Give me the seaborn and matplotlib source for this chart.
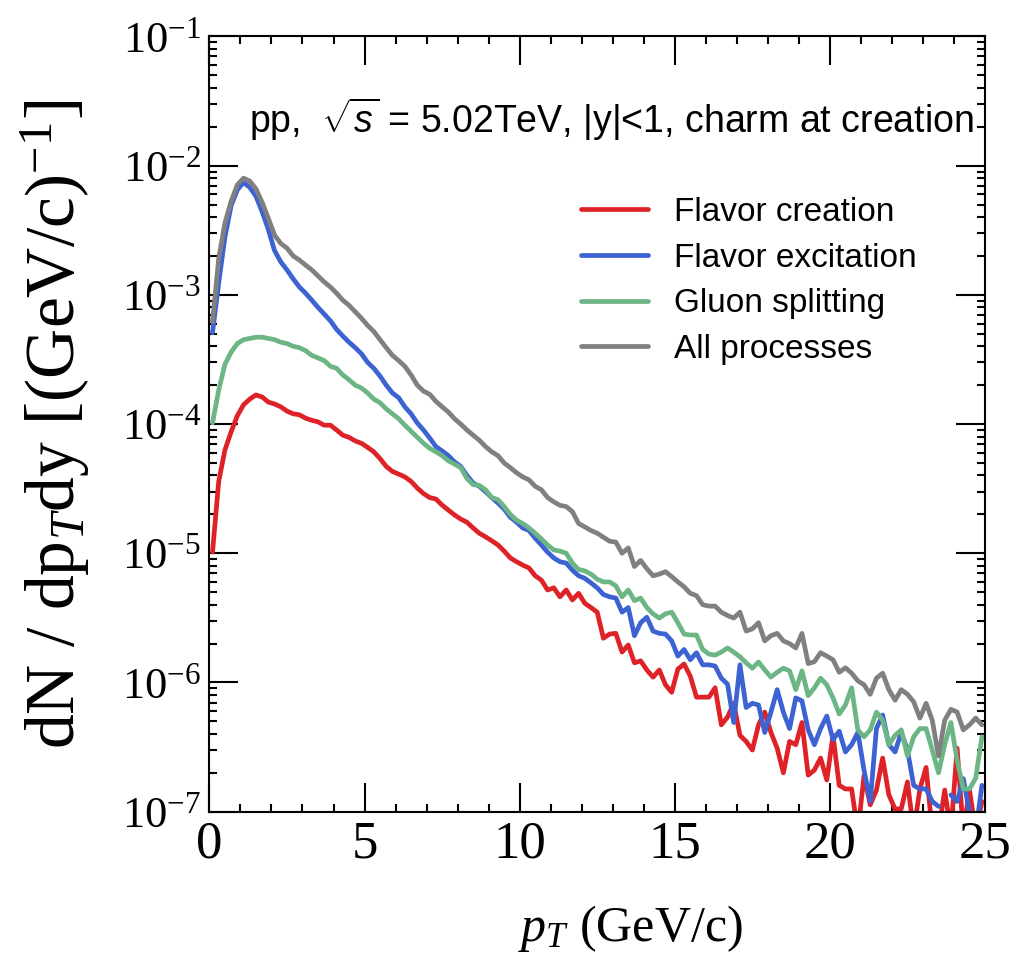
import numpy as np
import pandas as pd
import matplotlib
matplotlib.use("Agg")
import matplotlib.pyplot as plt
import seaborn as sns
from matplotlib.ticker import MultipleLocator, LogLocator, NullFormatter

# ---------------- data ----------------
# pT bin centres, 0.2 GeV/c wide bins from 0 to 25 GeV/c
pt_bins = np.round(np.arange(0.1, 25.0, 0.2), 1)

flavor_creation = [
    1.02e-5, 3.6e-5, 6.3e-5, 8.7e-5, 1.16e-4, 1.41e-4, 1.56e-4, 1.68e-4, 1.62e-4, 1.48e-4,
    1.43e-4, 1.36e-4, 1.26e-4, 1.2e-4, 1.18e-4, 1.11e-4, 1.07e-4, 1.04e-4, 9.8e-5, 9.8e-5,
    9.0e-5, 8.2e-5, 7.9e-5, 7.4e-5, 7.1e-5, 6.6e-5, 6.1e-5, 5.4e-5, 4.7e-5, 4.3e-5,
    4.1e-5, 3.9e-5, 3.6e-5, 3.2e-5, 2.9e-5, 2.7e-5, 2.63e-5, 2.36e-5, 2.16e-5, 1.98e-5,
    1.84e-5, 1.74e-5, 1.57e-5, 1.43e-5, 1.34e-5, 1.25e-5, 1.16e-5, 1.04e-5, 9.2e-6, 8.6e-6,
    8.1e-6, 7.7e-6, 6.7e-6, 6.2e-6, 5.2e-6, 5.4e-6, 4.6e-6, 5.2e-6, 4.35e-6, 4.9e-6,
    4.1e-6, 3.8e-6, 3.5e-6, 2.2e-6, 2.37e-6, 2.4e-6, 1.72e-6, 1.95e-6, 1.42e-6, 1.47e-6,
    1.25e-6, 1.1e-6, 1.25e-6, 9.6e-7, 8.4e-7, 1.27e-6, 1.39e-6, 1.12e-6, 7.7e-7, 7.7e-7,
    7.7e-7, 9.1e-7, 4.7e-7, 5.4e-7, 6.9e-7, 3.9e-7, 3.5e-7, 3.0e-7, 4.7e-7, 5.9e-7,
    4.1e-7, 3.1e-7, 2.0e-7, 3.5e-7, 3.3e-7, 4.9e-7, 1.92e-7, 2.1e-7, 2.6e-7, 1.76e-7,
    3.9e-7, 1.6e-7, 1.5e-7, 1.5e-7, 7e-8, 1.9e-7, 1.13e-7, 1.47e-7, 2.6e-7, 1.35e-7,
    1.05e-7, 1.05e-7, 1.7e-7, 7e-8, 1.5e-7, 2.2e-7, 7e-8, 7e-8, 1.47e-7, 7e-8,
    3.1e-7, 7e-8, 1.47e-7, 7e-8, 1.2e-7,
]

flavor_excitation = [
    5.1e-4, 1.24e-3, 2.8e-3, 4.9e-3, 6.5e-3, 7.4e-3, 6.8e-3, 5.8e-3, 4.4e-3, 3.2e-3,
    2.2e-3, 1.8e-3, 1.56e-3, 1.33e-3, 1.15e-3, 1.03e-3, 9.1e-4, 8.0e-4, 7.1e-4, 6.3e-4,
    5.4e-4, 4.8e-4, 4.3e-4, 3.9e-4, 3.5e-4, 3.0e-4, 2.7e-4, 2.35e-4, 2.0e-4, 1.74e-4,
    1.6e-4, 1.36e-4, 1.2e-4, 1.02e-4, 9.0e-5, 7.8e-5, 6.7e-5, 6.2e-5, 5.7e-5, 5.1e-5,
    4.7e-5, 4.0e-5, 3.5e-5, 3.3e-5, 3.0e-5, 2.7e-5, 2.45e-5, 2.2e-5, 1.9e-5, 1.74e-5,
    1.57e-5, 1.5e-5, 1.31e-5, 1.16e-5, 1.02e-5, 9.2e-6, 8.6e-6, 8.4e-6, 7.4e-6, 6.7e-6,
    6.4e-6, 5.9e-6, 5.4e-6, 4.8e-6, 4.6e-6, 4.5e-6, 3.5e-6, 3.8e-6, 2.3e-6, 2.9e-6,
    3.2e-6, 2.5e-6, 2.4e-6, 2.37e-6, 2.1e-6, 1.6e-6, 1.8e-6, 1.5e-6, 1.7e-6, 1.37e-6,
    1.37e-6, 1.34e-6, 1.08e-6, 9.7e-7, 4.9e-7, 1.37e-6, 6.4e-7, 6.9e-7, 6.7e-7, 4.1e-7,
    5.9e-7, 8.8e-7, 5.9e-7, 4.4e-7, 7.6e-7, 7.2e-7, 4.3e-7, 3.3e-7, 4.4e-7, 5.5e-7,
    3.6e-7, 4.2e-7, 2.9e-7, 3.3e-7, 4.1e-7, 2.1e-7, 1.2e-7, 4.4e-7, 5.6e-7, 3.3e-7,
    2.9e-7, 4.1e-7, 3.0e-7, 1.6e-7, 1.5e-7, 1.5e-7, 1.2e-7, 1.1e-7, np.nan, 1.35e-7,
    1.2e-7, 1.8e-7, 9.9e-8, 7e-8, 1.6e-7,
]

gluon_splitting = [
    1.02e-4, 1.83e-4, 2.9e-4, 3.6e-4, 4.2e-4, 4.5e-4, 4.6e-4, 4.7e-4, 4.7e-4, 4.6e-4,
    4.5e-4, 4.3e-4, 4.2e-4, 4.0e-4, 3.9e-4, 3.7e-4, 3.4e-4, 3.25e-4, 3.1e-4, 2.8e-4,
    2.7e-4, 2.4e-4, 2.2e-4, 2.0e-4, 1.9e-4, 1.74e-4, 1.56e-4, 1.46e-4, 1.31e-4, 1.2e-4,
    1.1e-4, 9.8e-5, 8.8e-5, 7.9e-5, 7.1e-5, 6.5e-5, 6.1e-5, 5.7e-5, 5.2e-5, 4.9e-5,
    4.6e-5, 3.8e-5, 3.4e-5, 3.35e-5, 3.1e-5, 2.7e-5, 2.6e-5, 2.3e-5, 2.0e-5, 1.8e-5,
    1.7e-5, 1.57e-5, 1.43e-5, 1.29e-5, 1.16e-5, 1.06e-5, 1.04e-5, 1.0e-5, 8.4e-6, 7.5e-6,
    7.3e-6, 6.9e-6, 6.3e-6, 6.0e-6, 6.0e-6, 5.6e-6, 4.6e-6, 5.2e-6, 4.3e-6, 4.5e-6,
    3.8e-6, 3.4e-6, 3.15e-6, 3.4e-6, 3.5e-6, 2.9e-6, 2.37e-6, 2.33e-6, 2.33e-6, 1.8e-6,
    1.66e-6, 1.63e-6, 1.72e-6, 1.85e-6, 1.72e-6, 1.58e-6, 1.42e-6, 1.29e-6, 1.44e-6, 1.25e-6,
    1.1e-6, 1.2e-6, 1.29e-6, 1.23e-6, 8.8e-7, 1.23e-6, 7.9e-7, 9.1e-7, 1.08e-6, 9.6e-7,
    7.6e-7, 5.7e-7, 6.7e-7, 9.1e-7, 4.3e-7, 3.8e-7, 4.3e-7, 5.9e-7, 5.1e-7, 3.3e-7,
    3.9e-7, 4.3e-7, 2.7e-7, 3.8e-7, 4.4e-7, 4.4e-7, 3.0e-7, 2.0e-7, 3.3e-7, 4.9e-7,
    2.5e-7, 1.5e-7, 1.5e-7, 1.82e-7, 3.8e-7,
]

all_processes = [
    6.2e-4, 1.9e-3, 3.6e-3, 5.3e-3, 7.1e-3, 8.0e-3, 7.6e-3, 6.6e-3, 5.2e-3, 3.9e-3,
    2.9e-3, 2.5e-3, 2.3e-3, 2.0e-3, 1.86e-3, 1.7e-3, 1.56e-3, 1.4e-3, 1.26e-3, 1.15e-3,
    1.03e-3, 9.1e-4, 8.3e-4, 7.4e-4, 6.6e-4, 5.8e-4, 5.2e-4, 4.5e-4, 3.9e-4, 3.4e-4,
    3.1e-4, 2.8e-4, 2.4e-4, 2.0e-4, 1.8e-4, 1.7e-4, 1.5e-4, 1.36e-4, 1.24e-4, 1.1e-4,
    1.0e-4, 9.0e-5, 8.2e-5, 7.5e-5, 6.7e-5, 6.1e-5, 5.7e-5, 5.0e-5, 4.6e-5, 4.2e-5,
    3.9e-5, 3.7e-5, 3.3e-5, 3.1e-5, 2.7e-5, 2.5e-5, 2.35e-5, 2.3e-5, 2.1e-5, 1.7e-5,
    1.6e-5, 1.5e-5, 1.43e-5, 1.33e-5, 1.24e-5, 1.22e-5, 1.0e-5, 1.1e-5, 7.9e-6, 8.8e-6,
    7.6e-6, 6.7e-6, 6.9e-6, 7.2e-6, 6.6e-6, 6.0e-6, 5.5e-6, 4.9e-6, 4.7e-6, 4.0e-6,
    3.9e-6, 3.9e-6, 3.5e-6, 3.3e-6, 3.15e-6, 3.5e-6, 2.5e-6, 2.6e-6, 2.9e-6, 2.1e-6,
    2.3e-6, 2.4e-6, 2.1e-6, 2.0e-6, 1.85e-6, 2.4e-6, 1.4e-6, 1.45e-6, 1.7e-6, 1.6e-6,
    1.5e-6, 1.2e-6, 1.3e-6, 1.18e-6, 1.03e-6, 9.6e-7, 8.1e-7, 1.08e-6, 1.18e-6, 8.8e-7,
    7.3e-7, 8.8e-7, 8.1e-7, 7.1e-7, 5.3e-7, 6.9e-7, 5.1e-7, 2.7e-7, 5.1e-7, 6.2e-7,
    5.9e-7, 4.3e-7, 4.7e-7, 5.3e-7, 4.7e-7,
]

labels = ["Flavor creation", "Flavor excitation", "Gluon splitting", "All processes"]
colors = ["#de2228", "#3d63d3", "#6cb584", "#808080"]
x_ticks = [0, 5, 10, 15, 20, 25]
annotation = r"pp,  $\sqrt{\mathsf{s}}$ = 5.02TeV, |y|<1, charm at creation"

# ---------------- build long-form table ----------------
frames = []
for name, vals in zip(labels, [flavor_creation, flavor_excitation, gluon_splitting, all_processes]):
    v = np.array(vals, dtype=float)
    seg = np.cumsum(np.isnan(v))  # split line where a bin is empty
    frames.append(pd.DataFrame({"pt": pt_bins, "val": v, "process": name,
                                "seg": [f"{name}-{s}" for s in seg]}))
df = pd.concat(frames, ignore_index=True).dropna()

# ---------------- style ----------------
sns.set_theme(style="ticks")
plt.rcParams["font.family"] = ["Liberation Serif", "DejaVu Serif"]
plt.rcParams["mathtext.fontset"] = "custom"
plt.rcParams["mathtext.rm"] = "Liberation Serif"
plt.rcParams["mathtext.it"] = "Liberation Serif:italic"
plt.rcParams["mathtext.sf"] = "Liberation Sans:italic"
plt.rcParams["axes.linewidth"] = 1.5
for key in ["text.color", "axes.labelcolor", "xtick.color", "ytick.color", "axes.edgecolor"]:
    plt.rcParams[key] = "black"

fig = plt.figure(figsize=(10.25, 9.59), dpi=100)
ax = fig.add_axes([0.2043, 0.1536, 0.7567, 0.8084])
ax.set_yscale("log")

sns.lineplot(data=df, x="pt", y="val", hue="process", hue_order=labels,
             palette=colors, units="seg", estimator=None, sort=False,
             linewidth=3.4, ax=ax)

ax.set_xlim(0, 25)
ax.set_ylim(1e-7, 1e-1)
ax.set_xticks(x_ticks)
ax.xaxis.set_minor_locator(MultipleLocator(1))
ax.yaxis.set_major_locator(LogLocator(base=10, numticks=20))
ax.yaxis.set_minor_locator(LogLocator(base=10, subs=np.arange(2, 10), numticks=20))
ax.yaxis.set_minor_formatter(NullFormatter())

ax.tick_params(which="both", direction="in", top=True, right=True, width=1.5, colors="black")
ax.tick_params(which="major", length=21)
ax.tick_params(which="minor", length=6)
ax.tick_params(axis="x", which="major", labelsize=38, pad=6)
ax.tick_params(axis="y", which="major", labelsize=32, pad=6)
for s in ax.spines.values():
    s.set_visible(True)
    s.set_color("black")

ax.set_xlabel(r"$p_T$ (GeV/c)", fontsize=36)
ax.xaxis.set_label_coords(0.543, -0.118)
ax.set_ylabel(r"dN / dp$_T$dy [(GeV/c)$^{-1}$]", fontsize=50)
ax.yaxis.set_label_coords(-0.152, 0.5)

ax.text(0.985, 0.893, annotation, transform=ax.transAxes, ha="right", va="center",
        fontsize=27, family=["Liberation Sans", "DejaVu Sans"])

leg = ax.legend(loc="upper left", bbox_to_anchor=(0.462, 0.81), frameon=False,
                prop={"family": ["Liberation Sans", "DejaVu Sans"], "size": 24},
                handlelength=2.0, handletextpad=0.8, labelspacing=0.44,
                borderaxespad=0)
for line in leg.get_lines():
    line.set_linewidth(3.4)

fig.savefig("out.png", dpi=100)
